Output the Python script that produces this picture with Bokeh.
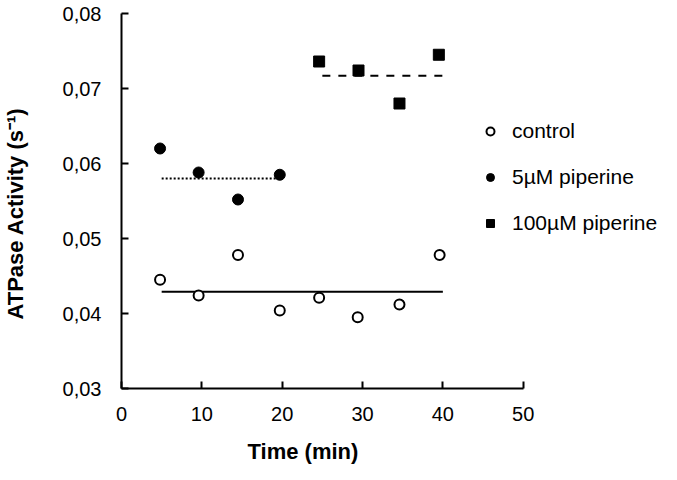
from bokeh.plotting import figure
from bokeh.models import (Range1d, FixedTicker, CustomJSTickFormatter, Legend, LegendItem,
                          LinearAxis, Title)
from bokeh.embed import file_html
from bokeh.resources import INLINE

# ---- data ----
control_t = [4.8, 9.6, 14.5, 19.7, 24.6, 29.4, 34.6, 39.6]
control_y = [0.0445, 0.0424, 0.0478, 0.0404, 0.0421, 0.0395, 0.0412, 0.0478]

pip5_t = [4.8, 9.6, 14.5, 19.7]
pip5_y = [0.0620, 0.0588, 0.0552, 0.0585]

pip100_t = [24.6, 29.5, 34.6, 39.5]
pip100_y = [0.0736, 0.0724, 0.0680, 0.0745]

control_line_t = [5, 40]
control_line_y = [0.0429, 0.0429]
pip5_line_t = [5, 19.5]
pip5_line_y = [0.0580, 0.0580]
pip100_line_t = [25, 40]
pip100_line_y = [0.0717, 0.0717]

x_ticks = [0, 10, 20, 30, 40, 50]
y_ticks = [0.03, 0.04, 0.05, 0.06, 0.07, 0.08]

FONT = "Liberation Sans"

LEFT = 121
WIDTH = 661
X_SCALE = 401.7 / 50.0  # px per minute
x_end = (WIDTH - LEFT) / X_SCALE

p = figure(width=WIDTH, height=464, output_backend="svg", toolbar_location=None,
           x_range=Range1d(0, x_end), y_range=Range1d(0.03, 0.08),
           min_border_left=LEFT, min_border_right=0, min_border_top=13, min_border_bottom=75)
p.outline_line_color = None
p.xgrid.visible = False
p.ygrid.visible = False
p.background_fill_color = "white"
p.border_fill_color = "white"

for ax in (p.xaxis[0], p.yaxis[0]):
    ax.axis_line_width = 2
    ax.axis_line_color = "black"
    ax.major_tick_line_width = 2
    ax.major_tick_line_color = "black"
    ax.major_tick_in = 7
    ax.major_tick_out = 0
    ax.minor_tick_line_color = None
    ax.major_label_text_font = FONT
    ax.major_label_text_font_size = "20px"
    ax.major_label_text_color = "black"

p.xaxis[0].ticker = FixedTicker(ticks=x_ticks)
p.xaxis[0].bounds = (0, 50)
p.yaxis[0].ticker = FixedTicker(ticks=y_ticks)
p.yaxis[0].formatter = CustomJSTickFormatter(code="return tick.toFixed(2).replace('.', ',');")
p.xaxis[0].major_label_standoff = 18
p.yaxis[0].major_label_standoff = 20


def spacer(px):
    # invisible axis used only to reserve space in a side panel
    a = LinearAxis(ticker=FixedTicker(ticks=[]), axis_label=".")
    a.axis_line_color = None
    a.major_tick_line_color = None
    a.minor_tick_line_color = None
    a.major_tick_in = 0
    a.major_tick_out = 0
    a.axis_label_text_alpha = 0
    a.axis_label_text_font_size = "2px"
    a.axis_label_standoff = px
    return a


def axis_title(text, offset):
    return Title(text=text, align="left", offset=offset, standoff=0, vertical_align="middle",
                 text_font=FONT, text_font_size="22px", text_font_style="bold",
                 text_color="black")


p.add_layout(spacer(10), "below")
p.add_layout(axis_title("Time (min)", 126), "below")
p.add_layout(spacer(27), "left")
p.add_layout(axis_title("ATPase Activity (s⁻¹)", 69), "left")

# fitted level lines
p.line(control_line_t, control_line_y, line_color="black", line_width=2)
p.line(pip5_line_t, pip5_line_y, line_color="black", line_width=2, line_dash="2 2")
p.line(pip100_line_t, pip100_line_y, line_color="black", line_width=2, line_dash="8 8")

r_ctrl = p.scatter(control_t, control_y, marker="circle", size=10, fill_color="white",
                   line_color="black", line_width=2)
r_p5 = p.scatter(pip5_t, pip5_y, marker="circle", size=11, fill_color="black", line_color="black")
r_p100 = p.scatter(pip100_t, pip100_y, marker="square", size=11, fill_color="black", line_color="black")

legend = Legend(items=[LegendItem(label="control", renderers=[r_ctrl]),
                       LegendItem(label="5µM piperine", renderers=[r_p5]),
                       LegendItem(label="100µM piperine", renderers=[r_p100])],
                location=(359, 153), orientation="vertical")
legend.border_line_color = None
legend.background_fill_alpha = 0
legend.padding = 0
legend.margin = 0
legend.spacing = 22
legend.glyph_width = 20
legend.glyph_height = 22
legend.label_height = 22
legend.label_standoff = 12
legend.label_text_font = FONT
legend.label_text_font_size = "21px"
legend.label_text_color = "black"
p.add_layout(legend, "center")

open("out.html", "w").write(file_html(p, INLINE))
